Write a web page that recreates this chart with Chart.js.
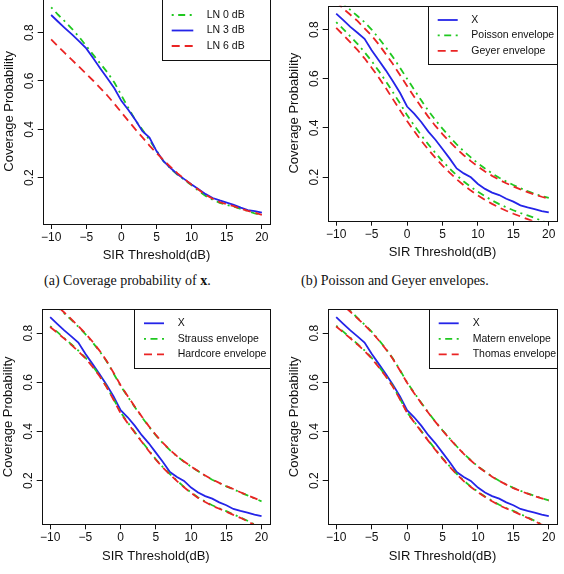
<!DOCTYPE html>
<html><head><meta charset="utf-8">
<script src="https://cdn.jsdelivr.net/npm/chart.js@4.4.1/dist/chart.umd.min.js"></script>
<style>
html,body{margin:0;padding:0;background:#fff;width:564px;height:574px;overflow:hidden;position:relative;}
.panel{position:absolute;}
.panel canvas{display:block;}
.cap{position:absolute;font-family:'Liberation Serif','Times New Roman',serif;font-size:14px;line-height:16px;color:#111;white-space:nowrap;}
</style></head><body>
<div class="cap" style="left:44px;top:273px">(a) Coverage probability of <b>x</b>.</div>
<div class="cap" style="left:301px;top:273px">(b) Poisson and Geyer envelopes.</div>
<script>
// ---------- data ----------
const thresholds = [-10,-9,-8,-7,-6,-5,-4,-3,-2,-1,0,1,2,3,4,5,6,7,8,9,10,11,12,13,14,15,16,17,18,19,20];
const xTicks = [-10,-5,0,5,10,15,20];
const yTicks = [0.2,0.4,0.6,0.8];

// panel (a)
const ln0dB = [0.905,0.874,0.845,0.815,0.782,0.745,0.708,0.672,0.636,0.594,0.541,0.488,0.438,0.398,0.356,0.312,0.268,0.238,0.212,0.190,0.169,0.146,0.124,0.109,0.096,0.088,0.080,0.071,0.062,0.052,0.045];
const ln3dB = [0.873,0.845,0.818,0.792,0.764,0.735,0.694,0.652,0.611,0.570,0.518,0.480,0.439,0.392,0.366,0.310,0.268,0.240,0.214,0.193,0.172,0.152,0.132,0.116,0.106,0.097,0.088,0.076,0.066,0.062,0.056];
const ln6dB = [0.772,0.743,0.714,0.686,0.658,0.630,0.601,0.571,0.540,0.506,0.470,0.435,0.400,0.367,0.333,0.302,0.273,0.245,0.218,0.194,0.171,0.150,0.129,0.113,0.099,0.090,0.082,0.072,0.063,0.055,0.046];

// coverage of X (panels b, c, d)
const covX = [0.865,0.838,0.811,0.787,0.762,0.716,0.675,0.634,0.590,0.543,0.487,0.458,0.424,0.385,0.352,0.314,0.276,0.235,0.215,0.199,0.172,0.152,0.137,0.127,0.112,0.100,0.085,0.077,0.070,0.062,0.056];

// panel (b)
const poissonUpper = [0.935,0.905,0.880,0.855,0.830,0.800,0.765,0.728,0.688,0.645,0.600,0.556,0.512,0.470,0.432,0.397,0.364,0.333,0.305,0.280,0.256,0.235,0.215,0.197,0.182,0.168,0.155,0.143,0.132,0.123,0.115];
const poissonLower = [0.830,0.802,0.772,0.742,0.708,0.672,0.632,0.590,0.545,0.500,0.452,0.410,0.370,0.333,0.298,0.265,0.235,0.207,0.182,0.160,0.140,0.122,0.105,0.090,0.077,0.065,0.054,0.044,0.034,0.022,0.012];
const geyerUpper = [0.915,0.885,0.860,0.835,0.805,0.775,0.740,0.700,0.660,0.615,0.570,0.527,0.485,0.445,0.408,0.375,0.344,0.315,0.289,0.265,0.243,0.223,0.205,0.189,0.175,0.162,0.150,0.139,0.129,0.120,0.112];
const geyerLower = [0.807,0.778,0.748,0.717,0.683,0.645,0.605,0.562,0.517,0.472,0.428,0.387,0.348,0.312,0.278,0.247,0.218,0.191,0.167,0.145,0.125,0.107,0.091,0.076,0.063,0.051,0.040,0.029,0.018,0.008,0.000];

// panel (c)
const straussUpper = [0.930,0.906,0.881,0.854,0.826,0.796,0.763,0.727,0.686,0.636,0.585,0.542,0.500,0.459,0.420,0.384,0.352,0.324,0.299,0.277,0.257,0.238,0.220,0.204,0.190,0.177,0.165,0.152,0.140,0.128,0.116];
const straussLower = [0.828,0.805,0.780,0.755,0.729,0.701,0.667,0.628,0.583,0.532,0.478,0.437,0.398,0.360,0.323,0.287,0.255,0.227,0.200,0.175,0.152,0.132,0.115,0.100,0.088,0.076,0.063,0.051,0.037,0.022,0.008];
const hardcoreUpper = [0.934,0.910,0.884,0.857,0.829,0.799,0.766,0.729,0.688,0.639,0.588,0.544,0.502,0.461,0.422,0.386,0.354,0.325,0.300,0.278,0.258,0.239,0.221,0.205,0.191,0.178,0.166,0.153,0.141,0.129,0.117];
const hardcoreLower = [0.825,0.802,0.778,0.752,0.726,0.698,0.664,0.626,0.581,0.529,0.474,0.434,0.396,0.358,0.321,0.285,0.253,0.225,0.198,0.173,0.150,0.130,0.113,0.098,0.086,0.074,0.061,0.049,0.035,0.020,0.006];

// panel (d)
const maternUpper = [0.940,0.915,0.890,0.862,0.835,0.806,0.773,0.737,0.697,0.650,0.600,0.558,0.517,0.477,0.440,0.405,0.372,0.340,0.310,0.283,0.258,0.237,0.217,0.200,0.185,0.171,0.159,0.148,0.138,0.129,0.120];
const maternLower = [0.830,0.806,0.781,0.756,0.730,0.700,0.665,0.627,0.585,0.533,0.478,0.440,0.402,0.364,0.327,0.292,0.259,0.228,0.200,0.176,0.155,0.136,0.118,0.102,0.089,0.077,0.064,0.051,0.037,0.023,0.010];
const thomasUpper = [0.937,0.912,0.887,0.860,0.833,0.804,0.771,0.735,0.695,0.648,0.598,0.556,0.515,0.476,0.439,0.404,0.371,0.339,0.309,0.282,0.257,0.236,0.216,0.199,0.184,0.170,0.158,0.147,0.137,0.128,0.119];
const thomasLower = [0.827,0.803,0.779,0.754,0.727,0.697,0.662,0.624,0.582,0.531,0.476,0.438,0.400,0.362,0.325,0.290,0.257,0.226,0.198,0.174,0.153,0.134,0.116,0.100,0.087,0.075,0.062,0.049,0.035,0.021,0.008];

// ---------- styles ----------
const BLUE = '#2424e8', GREEN = '#20c820', RED = '#ea2424';
const SOLID = [], DOTDASH = [2,4.5,7,4.5], DASHED = [8,5];
const FONT = "'Liberation Sans', Arial, Helvetica, sans-serif";
Chart.defaults.font.family = FONT;
Chart.defaults.color = '#111';

function S(label, values, color, dash, inLegend) { return {label, values, color, dash, inLegend}; }

const panels = [
  { area:{left:42.7, top:-1.2, right:270.3, bottom:224}, yMin:0.0085, yMax:0.94,
    legend:{w:108, h:61.2, y0:16.2, dy:15.5, lx:9.4, ll:21.6, tx:44.4},
    series:[S('LN 0 dB', ln0dB, GREEN, DOTDASH, true), S('LN 3 dB', ln3dB, BLUE, SOLID, true), S('LN 6 dB', ln6dB, RED, DASHED, true)] },
  { area:{left:327.7, top:5.7, right:557.3, bottom:220.7}, yMin:0.0226, yMax:0.897,
    legend:{w:129.6, h:58.6, y0:14.3, dy:15.4, lx:10, ll:20, tx:43.6},
    series:[S('X', covX, BLUE, SOLID, true), S('Poisson envelope', poissonUpper, GREEN, DOTDASH, true), S('Poisson envelope', poissonLower, GREEN, DOTDASH, false),
            S('Geyer envelope', geyerUpper, RED, DASHED, true), S('Geyer envelope', geyerLower, RED, DASHED, false)] },
  { area:{left:41.7, top:309.3, right:270, bottom:524.3}, yMin:0.0226, yMax:0.897,
    legend:{w:135.7, h:59, y0:14, dy:15.5, lx:9.7, ll:20, tx:43.4},
    series:[S('X', covX, BLUE, SOLID, true), S('Strauss envelope', straussUpper, GREEN, DOTDASH, true), S('Strauss envelope', straussLower, GREEN, DOTDASH, false),
            S('Hardcore envelope', hardcoreUpper, RED, DASHED, true), S('Hardcore envelope', hardcoreLower, RED, DASHED, false)] },
  { area:{left:327.7, top:309.3, right:557.3, bottom:524.3}, yMin:0.0226, yMax:0.897,
    legend:{w:128.3, h:59, y0:14, dy:15.5, lx:9.7, ll:20, tx:43.7},
    series:[S('X', covX, BLUE, SOLID, true), S('Matern envelope', maternUpper, GREEN, DOTDASH, true), S('Matern envelope', maternLower, GREEN, DOTDASH, false),
            S('Thomas envelope', thomasUpper, RED, DASHED, true), S('Thomas envelope', thomasLower, RED, DASHED, false)] }
];

// R-style frame and legend box
const rFrame = {
  id:'rFrame',
  afterDatasetsDraw(chart, args, o) {
    const ctx = chart.ctx, a = chart.chartArea;
    ctx.save();
    // legend
    const bx = a.right - o.w, by = a.top;
    const L = Math.round(bx), T = Math.round(by), R = Math.round(a.right), B = Math.round(by + o.h);
    ctx.fillStyle = '#fff';
    ctx.fillRect(L, T, R - L, B - T);
    ctx.strokeStyle = '#111'; ctx.lineWidth = 1; ctx.setLineDash([]);
    ctx.strokeRect(L + 0.5, T + 0.5, R - L, B - T);
    const items = chart.data.datasets.filter(d => d.inLegend);
    items.forEach((d, i) => {
      const y = by + o.y0 + i * o.dy;
      ctx.beginPath();
      ctx.strokeStyle = d.borderColor; ctx.lineWidth = d.borderWidth; ctx.setLineDash(d.borderDash);
      ctx.moveTo(bx + o.lx, y); ctx.lineTo(bx + o.lx + o.ll, y); ctx.stroke();
      ctx.setLineDash([]);
      ctx.fillStyle = '#111'; ctx.font = '10.5px ' + FONT; ctx.textBaseline = 'middle'; ctx.textAlign = 'left';
      ctx.fillText(d.label, bx + o.tx, y);
    });
    // plot box
    ctx.strokeStyle = '#111'; ctx.lineWidth = 1; ctx.setLineDash([]);
    const l = Math.round(a.left), t = Math.round(a.top), r = Math.round(a.right), b = Math.round(a.bottom);
    ctx.strokeRect(l + 0.5, t + 0.5, r - l, b - t);
    ctx.restore();
  }
};

function buildConfig(p, pad) {
  const n = p.series.length;
  const grid = {display:true, drawOnChartArea:false, drawTicks:true, tickLength:5, color:'#111', lineWidth:1};
  return {
    type:'line',
    data:{ datasets: p.series.map((s, i) => ({
      label:s.label,
      data: thresholds.map((t, j) => ({x:t, y:s.values[j]})),
      borderColor:s.color, backgroundColor:s.color, borderWidth:1.8, borderDash:s.dash,
      pointRadius:0, pointHoverRadius:0, tension:0, fill:false, clip:0, order:n - i,
      inLegend:s.inLegend })) },
    options:{
      responsive:false, animation:false, events:[],
      layout:{padding:pad},
      plugins:{ legend:{display:false}, tooltip:{enabled:false}, rFrame:p.legend },
      scales:{
        x:{ type:'linear', position:'bottom', min:-11.2, max:21.2, bounds:'data',
            afterBuildTicks: sc => { sc.ticks = xTicks.map(v => ({value:v})); },
            ticks:{ callback: v => String(v).replace('-', '\u2212'), font:{size:12}, color:'#111', padding:1.3, minRotation:0, maxRotation:0, autoSkip:false },
            grid: grid, border:{display:false},
            title:{ display:true, text:'SIR Threshold(dB)', font:{size:13}, color:'#111', padding:{top:2.1, bottom:2} } },
        y:{ type:'linear', position:'left', min:p.yMin, max:p.yMax, bounds:'data',
            afterBuildTicks: sc => { sc.ticks = yTicks.map(v => ({value:v})); },
            ticks:{ callback: v => Number(v).toFixed(1), font:{size:12}, color:'#111', padding:0, minRotation:90, maxRotation:90, crossAlign:'center', autoSkip:false },
            grid: grid, border:{display:false},
            title:{ display:true, text:'Coverage Probability', font:{size:13}, color:'#111', padding:{top:2, bottom:5.8} } }
      }
    },
    plugins:[rFrame]
  };
}

function newCanvas(div, W, H) {
  div.innerHTML = '';
  const cv = document.createElement('canvas');
  cv.width = W; cv.height = H; cv.style.width = W + 'px'; cv.style.height = H + 'px';
  div.appendChild(cv);
  return cv;
}

function mount(p) {
  const div = document.createElement('div'); div.className = 'panel';
  div.style.left = '0px'; div.style.top = '0px';
  document.body.appendChild(div);
  const base = {top:10, left:2, right:3, bottom:2};
  const W0 = 400, H0 = 400;
  let ch = new Chart(newCanvas(div, W0, H0), buildConfig(p, base));
  const ca = ch.chartArea;
  const mL = ca.left, mT = ca.top, mR = W0 - ca.right, mB = H0 - ca.bottom;
  ch.destroy();
  const A = p.area;
  const cl = Math.floor(A.left - mL), ct = Math.floor(A.top - mT);
  const W = Math.ceil(A.right + mR - cl), H = Math.ceil(A.bottom + mB - ct);
  const pad = {
    left: base.left + (A.left - mL - cl),
    top: base.top + (A.top - mT - ct),
    right: base.right + (W - mR - (A.right - cl)),
    bottom: base.bottom + (H - mB - (A.bottom - ct))
  };
  div.style.left = cl + 'px'; div.style.top = ct + 'px';
  new Chart(newCanvas(div, W, H), buildConfig(p, pad));
}

panels.forEach(mount);
</script>
</body></html>
